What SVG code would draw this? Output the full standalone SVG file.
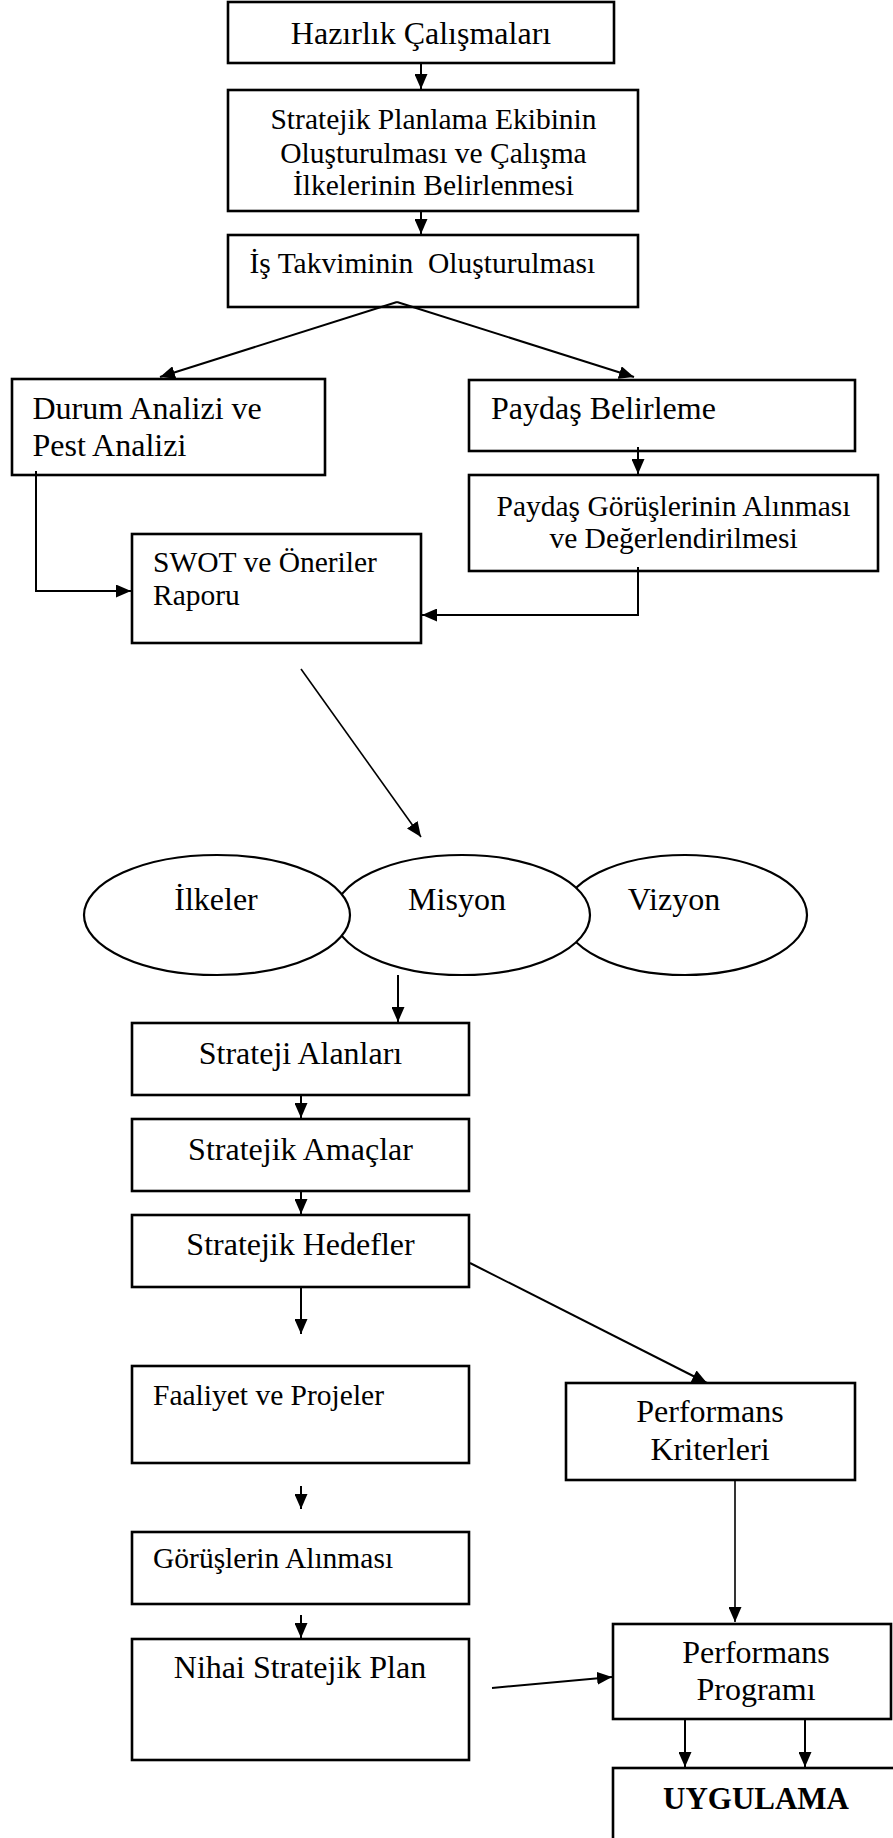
<svg xmlns="http://www.w3.org/2000/svg" width="893" height="1838" viewBox="0 0 893 1838">
<style>
.box{fill:#fff;stroke:#000;stroke-width:2.6}
.ell{fill:#fff;stroke:#000;stroke-width:2.2}
.t{font-family:"Liberation Serif","Times New Roman",serif;font-size:32px;fill:#000;white-space:pre}
.s{font-size:29.5px}
.c{text-anchor:middle}
.b{font-weight:bold;font-size:31px}
.ln{fill:none;stroke:#000;stroke-width:2}
.thin{stroke-width:1.6}
</style>
<defs>
<marker id="ah" markerUnits="userSpaceOnUse" markerWidth="15" markerHeight="13" refX="15" refY="6.5" orient="auto">
<path d="M0,0 L15,6.5 L0,13 z" fill="#000"/>
</marker>
</defs>
<rect width="893" height="1838" fill="#fff"/>

<g id="n1"><rect class="box" x="228" y="2" width="386" height="61"/><text class="t c" x="421" y="44">Hazırlık Çalışmaları</text></g>
<g id="n2"><rect class="box" x="228" y="90" width="410" height="121"/>
<text class="t s c" x="433.5" y="129">Stratejik Planlama Ekibinin</text>
<text class="t s c" x="433.5" y="162.5">Oluşturulması ve Çalışma</text>
<text class="t s c" x="433.5" y="195">İlkelerinin Belirlenmesi</text></g>
<g id="n3"><rect class="box" x="228" y="235" width="410" height="72"/><text class="t s" x="249.5" y="273">İş Takviminin  Oluşturulması</text></g>
<g id="n4"><rect class="box" x="12" y="379" width="313" height="96"/>
<text class="t" x="32.5" y="419">Durum Analizi ve</text>
<text class="t" x="32.5" y="456">Pest Analizi</text></g>
<g id="n5"><rect class="box" x="469" y="380" width="386" height="71"/><text class="t" x="491" y="419">Paydaş Belirleme</text></g>
<g id="n6"><rect class="box" x="469" y="475" width="409" height="96"/>
<text class="t s c" x="673.5" y="516">Paydaş Görüşlerinin Alınması</text>
<text class="t s c" x="673.5" y="548">ve Değerlendirilmesi</text></g>
<g id="n7"><rect class="box" x="132" y="534" width="289" height="109"/>
<text class="t s" x="153" y="571.5">SWOT ve Öneriler</text>
<text class="t s" x="153" y="605">Raporu</text></g>

<g id="n10"><ellipse class="ell" cx="685" cy="915" rx="122" ry="60"/><text class="t c" x="674" y="910">Vizyon</text></g>
<g id="n9"><ellipse class="ell" cx="462" cy="915" rx="128" ry="60"/><text class="t c" x="457" y="910">Misyon</text></g>
<g id="n8"><ellipse class="ell" cx="217" cy="915" rx="133" ry="60"/><text class="t c" x="216" y="910">İlkeler</text></g>

<g id="n11"><rect class="box" x="132" y="1023" width="337" height="72"/><text class="t c" x="300.5" y="1064">Strateji Alanları</text></g>
<g id="n12"><rect class="box" x="132" y="1119" width="337" height="72"/><text class="t c" x="300.5" y="1160">Stratejik Amaçlar</text></g>
<g id="n13"><rect class="box" x="132" y="1215" width="337" height="72"/><text class="t c" x="300.5" y="1255">Stratejik Hedefler</text></g>
<g id="n14"><rect class="box" x="132" y="1366" width="337" height="97"/><text class="t s" x="153" y="1405">Faaliyet ve Projeler</text></g>
<g id="n15"><rect class="box" x="566" y="1383" width="289" height="97"/>
<text class="t c" x="710" y="1421.5">Performans</text>
<text class="t c" x="710" y="1460">Kriterleri</text></g>
<g id="n16"><rect class="box" x="132" y="1532" width="337" height="72"/><text class="t s" x="153" y="1568">Görüşlerin Alınması</text></g>
<g id="n17"><rect class="box" x="132" y="1639" width="337" height="121"/><text class="t c" x="300" y="1678">Nihai Stratejik Plan</text></g>
<g id="n18"><rect class="box" x="613" y="1624" width="278" height="95"/>
<text class="t c" x="756" y="1663">Performans</text>
<text class="t c" x="756" y="1700">Programı</text></g>
<g id="n19"><rect class="box" x="613" y="1768" width="300" height="100"/><text class="t b c" x="756" y="1809">UYGULAMA</text></g>

<g id="connectors">
<line class="ln" x1="421" y1="63" x2="421" y2="89" marker-end="url(#ah)"/>
<line class="ln" x1="421" y1="211" x2="421" y2="234" marker-end="url(#ah)"/>
<line class="ln" x1="397" y1="302" x2="160" y2="377" marker-end="url(#ah)"/>
<line class="ln" x1="397" y1="302" x2="634" y2="377" marker-end="url(#ah)"/>
<line class="ln" x1="638" y1="447" x2="638" y2="474" marker-end="url(#ah)"/>
<polyline class="ln" points="36,471 36,591 131,591" marker-end="url(#ah)"/>
<polyline class="ln" points="638,567 638,615 422,615" marker-end="url(#ah)"/>
<line class="ln thin" x1="301" y1="669" x2="421" y2="837" marker-end="url(#ah)"/>
<line class="ln" x1="398" y1="975" x2="398" y2="1022" marker-end="url(#ah)"/>
<line class="ln" x1="301" y1="1095" x2="301" y2="1118" marker-end="url(#ah)"/>
<line class="ln" x1="301" y1="1191" x2="301" y2="1214" marker-end="url(#ah)"/>
<line class="ln" x1="301" y1="1287" x2="301" y2="1334" marker-end="url(#ah)"/>
<line class="ln" x1="470" y1="1263" x2="707" y2="1383" marker-end="url(#ah)"/>
<line class="ln" x1="301" y1="1486" x2="301" y2="1509" marker-end="url(#ah)"/>
<line class="ln" x1="301" y1="1615" x2="301" y2="1638" marker-end="url(#ah)"/>
<line class="ln thin" x1="735" y1="1480" x2="735" y2="1622" marker-end="url(#ah)"/>
<line class="ln" x1="492" y1="1688" x2="612" y2="1677" marker-end="url(#ah)"/>
<line class="ln" x1="685" y1="1719" x2="685" y2="1767" marker-end="url(#ah)"/>
<line class="ln" x1="805" y1="1719" x2="805" y2="1767" marker-end="url(#ah)"/>
</g>
</svg>
